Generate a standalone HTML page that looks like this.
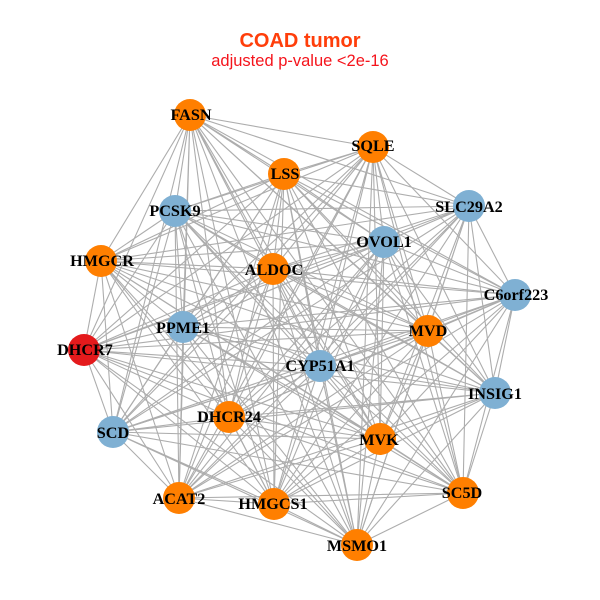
<!DOCTYPE html>
<html><head><meta charset="utf-8"><style>
html,body{margin:0;padding:0;background:#fff}
svg{display:block}
.l{font:bold 16.2px "Liberation Serif",serif;fill:#000;text-anchor:middle}
</style></head><body>
<svg width="600" height="600" viewBox="0 0 600 600" xmlns="http://www.w3.org/2000/svg">
<rect width="600" height="600" fill="#fff"/>
<g fill="none" stroke="#adadad" stroke-width="1.1">
<path d="M190 115 373 147 190 115 284 174 190 115 175 211 190 115 469 206 190 115 384 242 190 115 101 261 190 115 273 269 190 115 515 295 190 115 183 327 190 115 428 331 190 115 84 350 190 115 320 366 190 115 495 393 190 115 229 417 190 115 113 432 190 115 380 439 190 115 179 498 190 115 463 493 190 115 274 504 190 115 357 545"/>
<path d="M373 147 284 174 373 147 175 211 373 147 469 206 373 147 384 242 373 147 101 261 373 147 273 269 373 147 515 295 373 147 183 327 373 147 428 331 373 147 84 350 373 147 320 366 373 147 495 393 373 147 229 417 373 147 113 432 373 147 380 439 373 147 179 498 373 147 463 493 373 147 274 504 373 147 357 545"/>
<path d="M284 174 175 211 284 174 469 206 284 174 384 242 284 174 101 261 284 174 273 269 284 174 515 295 284 174 183 327 284 174 428 331 284 174 84 350 284 174 320 366 284 174 495 393 284 174 229 417 284 174 113 432 284 174 380 439 284 174 179 498 284 174 463 493 284 174 274 504 284 174 357 545"/>
<path d="M175 211 469 206 175 211 384 242 175 211 101 261 175 211 273 269 175 211 515 295 175 211 183 327 175 211 428 331 175 211 84 350 175 211 320 366 175 211 495 393 175 211 229 417 175 211 113 432 175 211 380 439 175 211 179 498 175 211 463 493 175 211 274 504 175 211 357 545"/>
<path d="M469 206 384 242 469 206 101 261 469 206 273 269 469 206 515 295 469 206 183 327 469 206 428 331 469 206 84 350 469 206 320 366 469 206 495 393 469 206 229 417 469 206 113 432 469 206 380 439 469 206 179 498 469 206 463 493 469 206 274 504 469 206 357 545"/>
<path d="M384 242 101 261 384 242 273 269 384 242 515 295 384 242 183 327 384 242 428 331 384 242 84 350 384 242 320 366 384 242 495 393 384 242 229 417 384 242 113 432 384 242 380 439 384 242 179 498 384 242 463 493 384 242 274 504 384 242 357 545"/>
<path d="M101 261 273 269 101 261 515 295 101 261 183 327 101 261 428 331 101 261 84 350 101 261 320 366 101 261 495 393 101 261 229 417 101 261 113 432 101 261 380 439 101 261 179 498 101 261 463 493 101 261 274 504 101 261 357 545"/>
<path d="M273 269 515 295 273 269 183 327 273 269 428 331 273 269 84 350 273 269 320 366 273 269 495 393 273 269 229 417 273 269 113 432 273 269 380 439 273 269 179 498 273 269 463 493 273 269 274 504 273 269 357 545"/>
<path d="M515 295 183 327 515 295 428 331 515 295 84 350 515 295 320 366 515 295 495 393 515 295 229 417 515 295 113 432 515 295 380 439 515 295 179 498 515 295 463 493 515 295 274 504 515 295 357 545"/>
<path d="M183 327 428 331 183 327 84 350 183 327 320 366 183 327 495 393 183 327 229 417 183 327 113 432 183 327 380 439 183 327 179 498 183 327 463 493 183 327 274 504 183 327 357 545"/>
<path d="M428 331 84 350 428 331 320 366 428 331 495 393 428 331 229 417 428 331 113 432 428 331 380 439 428 331 179 498 428 331 463 493 428 331 274 504 428 331 357 545"/>
<path d="M84 350 320 366 84 350 495 393 84 350 229 417 84 350 113 432 84 350 380 439 84 350 179 498 84 350 463 493 84 350 274 504 84 350 357 545"/>
<path d="M320 366 495 393 320 366 229 417 320 366 113 432 320 366 380 439 320 366 179 498 320 366 463 493 320 366 274 504 320 366 357 545"/>
<path d="M495 393 229 417 495 393 113 432 495 393 380 439 495 393 179 498 495 393 463 493 495 393 274 504 495 393 357 545"/>
<path d="M229 417 113 432 229 417 380 439 229 417 179 498 229 417 463 493 229 417 274 504 229 417 357 545"/>
<path d="M113 432 380 439 113 432 179 498 113 432 463 493 113 432 274 504 113 432 357 545"/>
<path d="M380 439 179 498 380 439 463 493 380 439 274 504 380 439 357 545"/>
<path d="M179 498 463 493 179 498 274 504 179 498 357 545"/>
<path d="M463 493 274 504 463 493 357 545"/>
<path d="M274 504 357 545"/>
</g>
<g fill="#ff7f00">
<circle cx="190" cy="115" r="16"/><circle cx="373" cy="147" r="16"/><circle cx="284" cy="174" r="16"/><circle cx="101" cy="261" r="16"/><circle cx="273" cy="269" r="16"/><circle cx="428" cy="331" r="16"/><circle cx="229" cy="417" r="16"/><circle cx="380" cy="439" r="16"/><circle cx="179" cy="498" r="16"/><circle cx="463" cy="493" r="16"/><circle cx="274" cy="504" r="16"/><circle cx="357" cy="545" r="16"/>
</g>
<g fill="#7fb0d3">
<circle cx="175" cy="211" r="16"/><circle cx="469" cy="206" r="16"/><circle cx="384" cy="242" r="16"/><circle cx="515" cy="295" r="16"/><circle cx="183" cy="327" r="16"/><circle cx="320" cy="366" r="16"/><circle cx="495" cy="393" r="16"/><circle cx="113" cy="432" r="16"/>
</g>
<circle cx="84" cy="350" r="16" fill="#e41a1c"/>
<g>
<text class="l" x="191" y="120">FASN</text>
<text class="l" x="373" y="151">SQLE</text>
<text class="l" x="285" y="179">LSS</text>
<text class="l" x="175" y="216">PCSK9</text>
<text class="l" x="469" y="212">SLC29A2</text>
<text class="l" x="384" y="247">OVOL1</text>
<text class="l" x="102" y="266">HMGCR</text>
<text class="l" x="274" y="275">ALDOC</text>
<text class="l" x="516" y="300">C6orf223</text>
<text class="l" x="183" y="333">PPME1</text>
<text class="l" x="428" y="336">MVD</text>
<text class="l" x="85" y="355">DHCR7</text>
<text class="l" x="320" y="371">CYP51A1</text>
<text class="l" x="495" y="399">INSIG1</text>
<text class="l" x="229" y="422">DHCR24</text>
<text class="l" x="113" y="438">SCD</text>
<text class="l" x="379" y="445">MVK</text>
<text class="l" x="179" y="504">ACAT2</text>
<text class="l" x="462" y="498">SC5D</text>
<text class="l" x="273" y="509">HMGCS1</text>
<text class="l" x="357" y="551">MSMO1</text>
</g>
<text x="300" y="47" text-anchor="middle" style="font:bold 20px 'Liberation Sans',sans-serif" fill="#ff3e0a">COAD tumor</text>
<text x="300" y="66" text-anchor="middle" style="font:16.5px 'Liberation Sans',sans-serif" fill="#f5141c">adjusted p-value &lt;2e-16</text>
</svg>
</body></html>
